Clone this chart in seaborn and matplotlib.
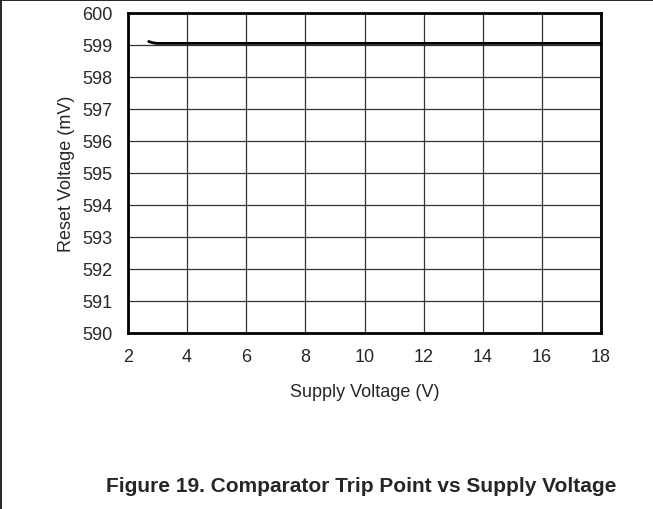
import matplotlib
matplotlib.use("Agg")
import matplotlib.pyplot as plt
import seaborn as sns
import pandas as pd
from matplotlib.lines import Line2D

# datos
supply_v = [2.7, 2.8, 2.9, 3.0, 3.5, 4, 6, 8, 10, 12, 14, 16, 18]
reset_mv = [599.11, 599.08, 599.06, 599.05, 599.05, 599.05, 599.05, 599.05, 599.05, 599.05, 599.05, 599.05, 599.05]
x_ticks = [2, 4, 6, 8, 10, 12, 14, 16, 18]
y_ticks = [590, 591, 592, 593, 594, 595, 596, 597, 598, 599, 600]

df = pd.DataFrame({'Supply': supply_v, 'Reset': reset_mv})

sns.set_style("white")
plt.rcParams['font.family'] = ['Liberation Sans', 'DejaVu Sans']

fig = plt.figure(figsize=(6.53, 5.10), dpi=100)
ax = fig.add_axes([128/653, 1 - 334/510, (601-128)/653, (334-14)/510])

sns.lineplot(data=df, x='Supply', y='Reset', color='black', linewidth=2, ax=ax)

ax.set_xlim(2, 18)
ax.set_ylim(590, 600)
ax.set_xticks(x_ticks)
ax.set_yticks(y_ticks)
ax.grid(True, color='#333333', linewidth=0.9)
ax.tick_params(axis='both', length=0, labelsize=13)
ax.tick_params(axis='y', pad=11)
ax.tick_params(axis='x', pad=11)
for s in ax.spines.values():
    s.set_linewidth(2)
    s.set_color('black')
    s.set_visible(True)

ax.set_xlabel('Supply Voltage (V)', fontsize=13, labelpad=13)
ax.set_ylabel('Reset Voltage (mV)', fontsize=13, labelpad=5)

fig.text(361/653, 1 - 487/510, 'Figure 19. Comparator Trip Point vs Supply Voltage',
         ha='center', va='center', fontsize=15, fontweight='bold')

# marco de la pagina
fig.add_artist(Line2D([0.002, 0.002], [0, 0.998], color='black', linewidth=1.2))
fig.add_artist(Line2D([0.002, 1], [0.998, 0.998], color='black', linewidth=1.2))

fig.savefig('out.png', dpi=100)
